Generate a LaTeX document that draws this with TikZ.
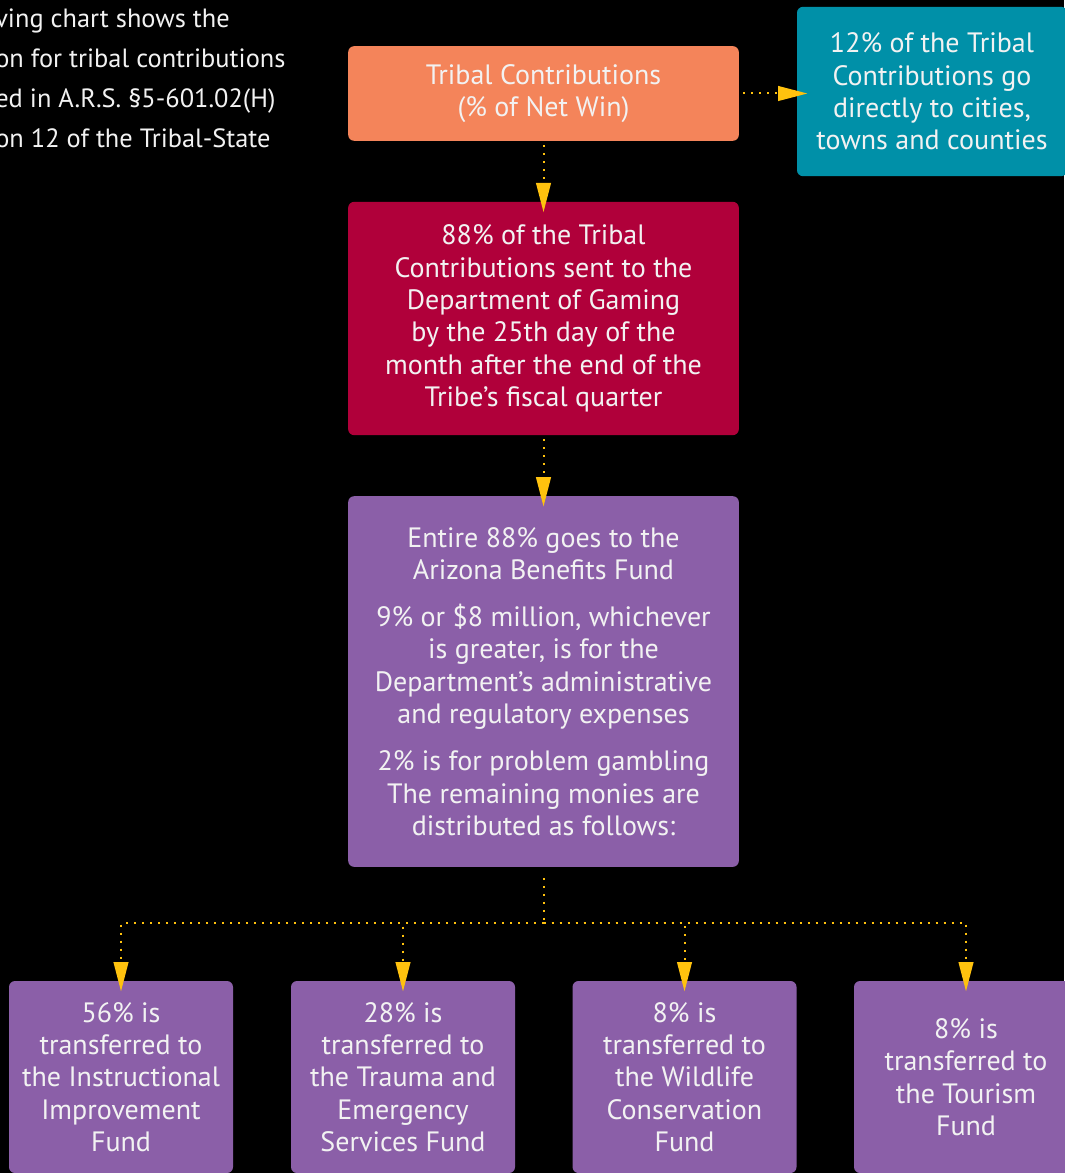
\documentclass[tikz,border=0pt]{standalone}
\usepackage{fontspec}
\setmainfont{PT Sans}
\usetikzlibrary{arrows.meta}

\definecolor{netwin}{RGB}{244,132,90}
\definecolor{direct}{RGB}{0,144,168}
\definecolor{gaming}{RGB}{176,0,58}
\definecolor{benefit}{RGB}{139,95,168}
\definecolor{flowline}{RGB}{255,194,14}
\definecolor{boxtext}{RGB}{242,242,242}

\tikzset{
    box/.style={rounded corners=4.5pt, text=boxtext, align=center, inner sep=0pt,
        font=\fontsize{21}{24.3}\selectfont},
    fundbox/.style={box, fill=benefit, minimum width=168pt, minimum height=144pt},
    flow/.style={draw=flowline, line width=1.5pt, dash pattern=on 1.5pt off 4.5pt,
        -{Triangle[length=22pt,width=11pt]}, shorten >=-8pt, shorten <=3pt},
    busline/.style={draw=flowline, line width=1.5pt, dash pattern=on 1.5pt off 4.5pt}
}

\begin{document}
\begin{tikzpicture}[x=0.75pt,y=-0.75pt]
    \useasboundingbox (0,0) rectangle (1064,1173);
    \fill[black] (0,0) rectangle (1064,1173);

    \node[anchor=north west, align=left, text=boxtext, inner sep=0pt,
        font=\fontsize{19.8}{30}\selectfont] (intro) at (-5,9)
        {ving chart shows the\\on for tribal contributions\\ed in A.R.S. §5-601.02(H)\\on 12 of the Tribal-State};

    \node[box, fill=netwin, minimum width=293pt, minimum height=71pt] (contrib) at (543.5,93.5)
        {Tribal Contributions\\(\% of Net Win)};
    \node[box, fill=direct, minimum width=202.5pt, minimum height=127pt] (cities) at (932,91.5)
        {12\% of the Tribal\\Contributions go\\directly to cities,\\towns and counties};
    \node[box, fill=gaming, minimum width=293pt, minimum height=175pt] (gaming) at (543.5,318.5)
        {88\% of the Tribal\\Contributions sent to the\\Department of Gaming\\by the 25th day of the\\month after the end of the\\Tribe’s fiscal quarter};
    \node[box, fill=benefit, minimum width=293pt, minimum height=278pt] (azfund) at (543.5,681.5)
        {Entire 88\% goes to the\\Arizona Benefits Fund\\[11pt]9\% or \$8 million, whichever\\is greater, is for the\\Department’s administrative\\and regulatory expenses\\[11pt]2\% is for problem gambling\\The remaining monies are\\distributed as follows:};

    \node[fundbox] (instruct) at (121,1077) {56\% is\\transferred to\\the Instructional\\Improvement\\Fund};
    \node[fundbox] (trauma) at (403,1077) {28\% is\\transferred to\\the Trauma and\\Emergency\\Services Fund};
    \node[fundbox] (wildlife) at (684.5,1077) {8\% is\\transferred to\\the Wildlife\\Conservation\\Fund};
    \node[fundbox] (tourism) at (966,1077) {8\% is\\transferred to\\the Tourism\\Fund};

    % connectors
    \draw[flow] (contrib.east) -- (contrib.east -| cities.west);
    \draw[flow] (contrib.south) -- (gaming.north);
    \draw[flow] (gaming.south) -- (azfund.north);

    \coordinate (bus) at (543.5,923);
    \draw[busline, shorten <=8pt] (azfund.south) -- (bus);
    \foreach \f in {instruct,trauma,wildlife,tourism}
        \draw[flow, shorten <=0pt] (bus) -| (\f.north);
\end{tikzpicture}
\end{document}
